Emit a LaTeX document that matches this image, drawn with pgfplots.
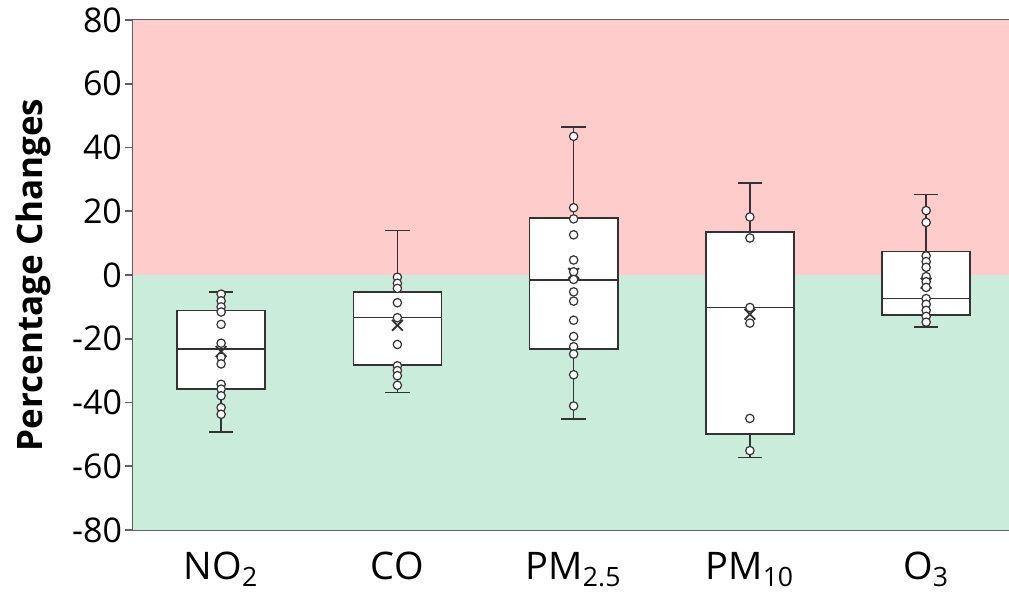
\documentclass[border=0pt]{standalone}
\usepackage{fontspec}
\setmainfont{Open Sans}
\usepackage{pgfplots}
\pgfplotsset{compat=1.18}
\usepgfplotslibrary{statistics}
\definecolor{pinkbg}{HTML}{FFCCCC}
\definecolor{greenbg}{HTML}{C9EDDA}
\definecolor{axgray}{HTML}{606060}
\definecolor{boxline}{HTML}{333333}
\begin{document}
\begin{tikzpicture}
\useasboundingbox (-66.5pt,-31.5pt) rectangle (438pt,265pt);
\begin{axis}[
  scale only axis,
  width=438pt, height=255pt,
  xmin=0.5, xmax=5.47,
  ymin=-80, ymax=80,
  axis x line=box, axis y line=left,
  axis line style={axgray, line width=1.2pt, -},
  ytick={-80,-60,...,80},
  xtick={1,2,3,4,5},
  xticklabels={NO\textsubscript{2}, CO, PM\textsubscript{2.5}, PM\textsubscript{10}, O\textsubscript{3}},
  major x tick style={draw=none},
  major y tick style={axgray, line width=0.8pt},
  tick align=outside,
  major tick length=4pt,
  /pgf/number format/assume math mode=true,
  yticklabel style={font=\fontsize{17}{19}\selectfont, xshift=2pt},
  xticklabel style={font=\fontsize{19}{22}\selectfont, yshift=-3.5pt},
  ylabel={Percentage Changes},
  ylabel style={font=\fontsize{17.5}{20}\selectfont\bfseries, at={(axis description cs:-0.114,0.5)}, anchor=center},
  boxplot/draw direction=y,
  clip=false,
]
% backgrounds
\addplot[fill=pinkbg, draw=none] coordinates {(0.5,0) (5.47,0) (5.47,80) (0.5,80)};
\addplot[fill=greenbg, draw=none] coordinates {(0.5,-80) (5.47,-80) (5.47,0) (0.5,0)};
% boxes
\pgfplotsset{mybox/.style={draw=boxline, fill=white, line width=0.8pt, solid}}
\addplot[mybox, boxplot prepared={draw position=1, median=-23.2, upper quartile=-11.1, lower quartile=-35.8, upper whisker=-5.3, lower whisker=-49.2, box extend=0.5, whisker extend=0.14}] coordinates {};
\addplot[mybox, boxplot prepared={draw position=2, median=-13.4, upper quartile=-5.3, lower quartile=-28.2, upper whisker=13.9, lower whisker=-36.9, box extend=0.5, whisker extend=0.14}] coordinates {};
\addplot[mybox, boxplot prepared={draw position=3, median=-1.6, upper quartile=17.9, lower quartile=-23.2, upper whisker=46.4, lower whisker=-45.1, box extend=0.5, whisker extend=0.14}] coordinates {};
\addplot[mybox, boxplot prepared={draw position=4, median=-10.2, upper quartile=13.5, lower quartile=-49.9, upper whisker=28.8, lower whisker=-57.2, box extend=0.5, whisker extend=0.14}] coordinates {};
\addplot[mybox, boxplot prepared={draw position=5, median=-7.4, upper quartile=7.4, lower quartile=-12.6, upper whisker=25.3, lower whisker=-16.3, box extend=0.5, whisker extend=0.14}] coordinates {};
% means
\addplot[only marks, mark=x, mark size=3.8pt, mark options={draw=boxline, line width=0.9pt}] coordinates {(1,-24.0) (2,-15.8) (3,0.5) (4,-12.3) (5,-2.6)};
% data points
\pgfplotsset{mypts/.style={only marks, mark=*, mark size=2.1pt, mark options={fill=white, draw=boxline, line width=0.6pt}}}
\addplot[mypts] coordinates {(1,-6.0) (1,-8.1) (1,-10.0) (1,-11.6) (1,-15.5) (1,-21.4) (1,-25.8) (1,-27.9) (1,-34.3) (1,-35.8) (1,-37.9) (1,-41.6) (1,-43.7)};
\addplot[mypts] coordinates {(2,-0.7) (2,-2.6) (2,-4.2) (2,-8.7) (2,-13.4) (2,-21.8) (2,-28.5) (2,-30.0) (2,-31.6) (2,-34.6)};
\addplot[mypts] coordinates {(3,43.5) (3,21.1) (3,17.6) (3,12.6) (3,4.7) (3,1.0) (3,-1.4) (3,-5.3) (3,-8.2) (3,-14.2) (3,-19.3) (3,-22.5) (3,-24.8) (3,-31.3) (3,-41.1)};
\addplot[mypts] coordinates {(4,18.2) (4,11.6) (4,-10.2) (4,-15.1) (4,-45.0) (4,-55.1)};
\addplot[mypts] coordinates {(5,20.2) (5,16.5) (5,6.0) (5,4.2) (5,2.4) (5,-0.5) (5,-2.1) (5,-3.9) (5,-7.4) (5,-9.2) (5,-11.1) (5,-13.0) (5,-14.8)};
\end{axis}
\end{tikzpicture}
\end{document}
